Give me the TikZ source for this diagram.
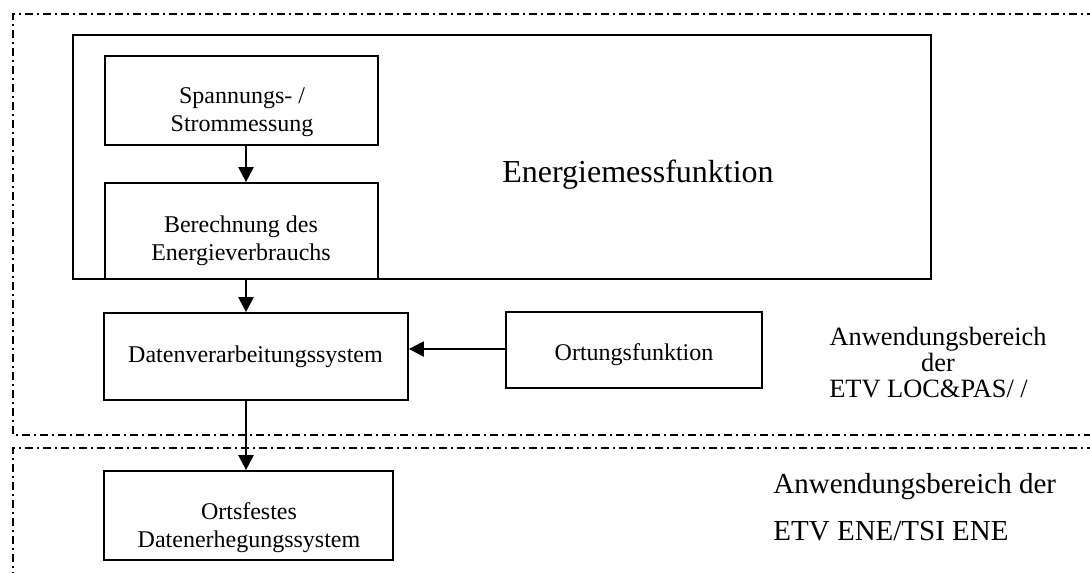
\documentclass[tikz,border=0pt]{standalone}
\usepackage{fontspec}
\setmainfont{Liberation Serif}
\usetikzlibrary{arrows.meta}
\begin{document}
\begin{tikzpicture}[x=0.5pt,y=-0.5pt,
  box/.style={draw, line width=0.9pt, inner sep=0pt},
  lbl/.style={font=\fontsize{12}{14}\selectfont, align=center, inner sep=0pt, anchor=base},
  arr/.style={line width=1.2pt, -{Triangle[length=7.5pt,width=7.5pt]}},
  zone/.style={line width=0.7pt, dash pattern=on 4pt off 2pt on 1pt off 2pt}]
\useasboundingbox (0,0) rectangle (1090,572);
% zones
\draw[zone] (1095,14) -- (13,14) -- (13,435) -- (1095,435);
\draw[zone] (1095,448) -- (13,448) -- (13,580);
% big box
\node[box, minimum width=858pt*0.5, minimum height=244pt*0.5] (em) at (502,157) {};
\node[font=\fontsize{16}{19}\selectfont, inner sep=0pt, anchor=base] (emt) at (638,183) {Energiemessfunktion};
% boxes
\node[box, minimum width=273pt*0.5, minimum height=89pt*0.5] (sp) at (241.5,100.5) {};
\node[lbl] (spt) at (242,132) {Spannungs- /\\Strommessung};
\node[box, minimum width=273pt*0.5, minimum height=96pt*0.5] (be) at (241.5,231) {};
\node[lbl] (bet) at (241,260) {Berechnung des\\Energieverbrauchs};
\node[box, minimum width=304pt*0.5, minimum height=87pt*0.5] (da) at (256,356.5) {};
\node[lbl] (dat) at (255.5,362) {Datenverarbeitungssystem};
\node[box, minimum width=256pt*0.5, minimum height=76pt*0.5] (or) at (634,350) {};
\node[lbl] (ort) at (634,360) {Ortungsfunktion};
\node[box, minimum width=289pt*0.5, minimum height=89pt*0.5] (of) at (248.5,515.5) {};
\node[lbl] (oft) at (249,547) {Ortsfestes\\Datenerhegungssystem};
% right texts
\node[font=\fontsize{13.2}{13}\selectfont, align=center, inner sep=0pt, anchor=base] (loc) at (938,397) {Anwendungsbereich\\der\\ETV LOC\&PAS/ /\hspace*{9.5pt}};
\node[font=\fontsize{14.5}{23.5}\selectfont, align=left, inner sep=0pt, anchor=base west] (ene) at (773,540) {Anwendungsbereich der\\ETV ENE/TSI ENE};
% connectors
\coordinate (ax) at (246,0);
\coordinate (ay) at (0,349);
\draw[arr] (ax |- sp.south) -- (ax |- be.north);
\draw[arr] (ax |- be.south) -- (ax |- da.north);
\draw[arr] (ax |- da.south) -- (ax |- of.north);
\draw[arr] (or.west |- ay) -- (da.east |- ay);
\end{tikzpicture}
\end{document}
